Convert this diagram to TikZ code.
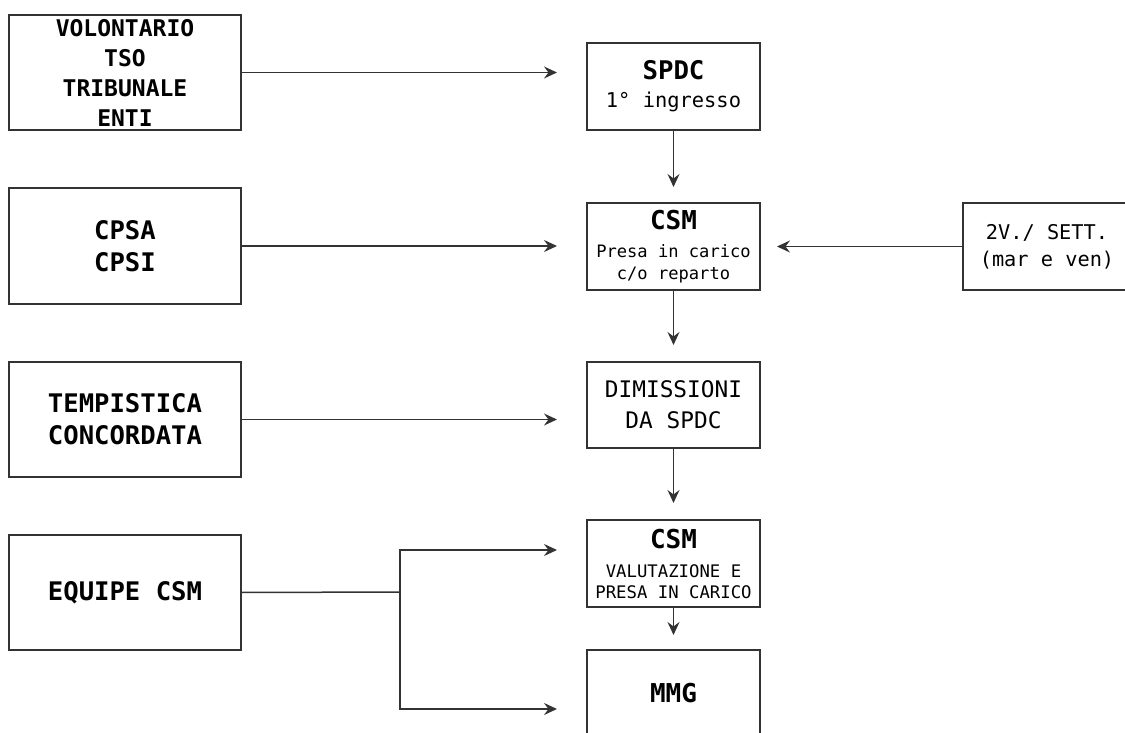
\documentclass[tikz,border=0pt]{standalone}
\usepackage{fontspec}
\setmainfont{DejaVu Sans Mono}
\setmonofont{DejaVu Sans Mono}
\usetikzlibrary{arrows.meta}

\tikzset{
  box/.style={draw=black!80, line width=1.5pt, fill=white, inner sep=0pt, outer sep=0pt,
              align=center, text=black},
  sidebox/.style={box, minimum width=232pt, minimum height=115pt},
  midbox/.style={box, minimum width=173pt, minimum height=87pt},
  link/.style={draw=black!80, line width=1.5pt},
  arr/.style={link, -{Stealth[length=13pt,width=12pt,inset=4.5pt]}},
}

\newcommand{\fs}[2]{\fontsize{#1}{#2}\selectfont}

\begin{document}
\begin{tikzpicture}[x=1pt, y=-1pt]
  \useasboundingbox (0,0) rectangle (1125,733);
  \begin{scope}
  \clip (0,0) rectangle (1125,733);

  % sources on the left
  \node[sidebox, font=\fs{23}{30}\bfseries] (vol) at (125,72.5)
       {VOLONTARIO\\TSO\\TRIBUNALE\\ENTI};
  \node[sidebox, minimum height=116pt, font=\fs{25.6}{32}\bfseries] (cpsa) at (125,246)
       {CPSA\\CPSI};
  \node[sidebox, font=\fs{25.6}{32}\bfseries] (temp) at (125,419.5)
       {TEMPISTICA\\CONCORDATA};
  \node[sidebox, font=\fs{25.6}{32}\bfseries] (equ) at (125,592.5)
       {EQUIPE CSM};

  % main path
  \node[midbox, font=\fs{20.4}{28}] (spdc) at (673.5,86.5)
       {{\fs{25.7}{28}\bfseries SPDC}\\1° ingresso};
  \node[midbox, font=\fs{17.1}{22}] (csm1) at (673.5,246.5)
       {{\fs{26}{22}\bfseries CSM}\\[6pt]Presa in carico\\c/o reparto};
  \node[midbox, minimum height=86pt, font=\fs{22.8}{31}] (dim) at (673.5,405)
       {DIMISSIONI\\DA SPDC};
  \node[midbox, font=\fs{17.3}{21}] (csm2) at (673.5,563.5)
       {{\fs{26}{21}\bfseries CSM}\\[8pt]VALUTAZIONE E\\PRESA IN CARICO};
  \node[midbox, minimum height=86pt, font=\fs{26}{30}\bfseries] (mmg) at (673.5,693)
       {MMG};

  % schedule on the right
  \node[box, minimum width=168pt, minimum height=87pt, font=\fs{20.3}{27}] (sett) at (1047,246.5)
       {2V./ SETT.\\(mar e ven)};

  % horizontal inputs
  \draw[arr, shorten >=30pt] (vol.east) -- (vol.east -| spdc.west);
  \draw[arr, shorten >=30pt] (cpsa.east) -- (cpsa.east -| csm1.west);
  \draw[arr, shorten >=30pt] (temp.east) -- (temp.east -| dim.west);
  \draw[arr, shorten >=17pt] (sett.west) -- (sett.west -| csm1.east);

  % vertical flow
  \draw[arr, shorten >=16pt] (spdc.south) -- (csm1.north);
  \draw[arr, shorten >=17pt] (csm1.south) -- (dim.north);
  \draw[arr, shorten >=17pt] (dim.south) -- (csm2.north);
  \draw[arr, shorten >=15pt] (csm2.south) -- (mmg.north);

  % equipe split
  \coordinate (split) at (400,592);
  \coordinate (tipA) at (557,550);
  \coordinate (tipB) at (557,709);
  \draw[link] (equ.east) -- (split);
  \draw[arr] (split) |- (tipA);
  \draw[arr] (split) |- (tipB);
  \end{scope}
\end{tikzpicture}
\end{document}
